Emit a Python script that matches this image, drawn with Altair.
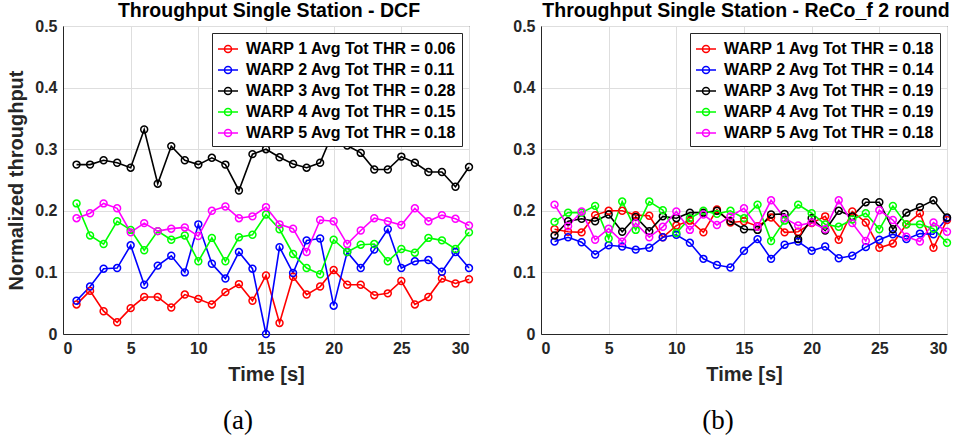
import altair as alt
import pandas as pd

time_s = list(range(1, 31))

# ---- (a) DCF ----
dcf_warp1 = [0.048, 0.070, 0.037, 0.019, 0.042, 0.060, 0.060, 0.043, 0.064, 0.057,
             0.048, 0.068, 0.081, 0.054, 0.095, 0.018, 0.093, 0.064, 0.077, 0.104,
             0.080, 0.080, 0.063, 0.066, 0.086, 0.048, 0.060, 0.090, 0.082, 0.089]
dcf_warp2 = [0.054, 0.077, 0.106, 0.107, 0.144, 0.080, 0.111, 0.127, 0.100, 0.178,
             0.114, 0.090, 0.133, 0.106, 0.000, 0.141, 0.099, 0.152, 0.155, 0.046,
             0.133, 0.107, 0.137, 0.170, 0.107, 0.118, 0.120, 0.101, 0.133, 0.107]
dcf_warp3 = [0.275, 0.275, 0.282, 0.278, 0.270, 0.332, 0.244, 0.305, 0.282, 0.275,
             0.286, 0.275, 0.233, 0.292, 0.300, 0.287, 0.276, 0.270, 0.278, 0.330,
             0.306, 0.294, 0.267, 0.267, 0.288, 0.278, 0.263, 0.263, 0.239, 0.271]
dcf_warp4 = [0.212, 0.160, 0.146, 0.183, 0.169, 0.136, 0.167, 0.153, 0.160, 0.118,
             0.156, 0.118, 0.157, 0.161, 0.194, 0.170, 0.130, 0.107, 0.097, 0.153,
             0.133, 0.145, 0.146, 0.118, 0.138, 0.132, 0.156, 0.152, 0.138, 0.165]
dcf_warp5 = [0.188, 0.196, 0.212, 0.204, 0.165, 0.180, 0.167, 0.171, 0.173, 0.159,
             0.200, 0.207, 0.188, 0.191, 0.206, 0.178, 0.171, 0.133, 0.185, 0.183,
             0.146, 0.168, 0.188, 0.183, 0.177, 0.204, 0.183, 0.193, 0.187, 0.176]
dcf_labels = ["WARP 1 Avg Tot THR = 0.06", "WARP 2 Avg Tot THR = 0.11",
              "WARP 3 Avg Tot THR = 0.28", "WARP 4 Avg Tot THR = 0.15",
              "WARP 5 Avg Tot THR = 0.18"]

# ---- (b) ReCo_f 2 round ----
reco_warp1 = [0.170, 0.166, 0.165, 0.193, 0.200, 0.200, 0.193, 0.192, 0.157, 0.176,
              0.184, 0.165, 0.202, 0.181, 0.183, 0.175, 0.189, 0.165, 0.166, 0.180,
              0.191, 0.153, 0.199, 0.181, 0.140, 0.147, 0.178, 0.196, 0.140, 0.185]
reco_warp2 = [0.150, 0.157, 0.149, 0.129, 0.144, 0.142, 0.137, 0.140, 0.157, 0.161,
              0.148, 0.122, 0.112, 0.108, 0.135, 0.154, 0.122, 0.145, 0.150, 0.135,
              0.142, 0.123, 0.127, 0.141, 0.153, 0.162, 0.154, 0.163, 0.162, 0.188]
reco_warp3 = [0.160, 0.183, 0.187, 0.183, 0.194, 0.166, 0.190, 0.167, 0.191, 0.188,
              0.197, 0.197, 0.200, 0.183, 0.170, 0.169, 0.194, 0.195, 0.154, 0.188,
              0.168, 0.200, 0.191, 0.214, 0.214, 0.170, 0.197, 0.206, 0.217, 0.189]
reco_warp4 = [0.182, 0.197, 0.197, 0.208, 0.155, 0.215, 0.169, 0.215, 0.201, 0.164,
              0.188, 0.200, 0.195, 0.200, 0.188, 0.210, 0.151, 0.184, 0.210, 0.196,
              0.178, 0.174, 0.186, 0.196, 0.170, 0.208, 0.178, 0.178, 0.171, 0.148]
reco_warp5 = [0.210, 0.175, 0.199, 0.153, 0.171, 0.150, 0.180, 0.157, 0.174, 0.199,
              0.169, 0.194, 0.177, 0.191, 0.204, 0.174, 0.217, 0.188, 0.176, 0.181,
              0.170, 0.217, 0.180, 0.151, 0.201, 0.185, 0.158, 0.150, 0.181, 0.166]
reco_labels = ["WARP 1 Avg Tot THR = 0.18", "WARP 2 Avg Tot THR = 0.14",
               "WARP 3 Avg Tot THR = 0.19", "WARP 4 Avg Tot THR = 0.19",
               "WARP 5 Avg Tot THR = 0.18"]

series_colors = ["#ff0000", "#0000ff", "#000000", "#00ff00", "#ff00ff"]
x_ticks = [0, 5, 10, 15, 20, 25, 30]
y_ticks = [0, 0.1, 0.2, 0.3, 0.4, 0.5]
captions = ["(a)", "(b)"]

FONT = "Liberation Sans"
LEG_PATH = "M-1,0L1,0M0.35,0A0.35,0.35 0 1,1 -0.35,0A0.35,0.35 0 1,1 0.35,0"


def make_df(series, labels):
    rows = []
    for s, lab in zip(series, labels):
        for t, v in zip(time_s, s):
            rows.append({"t": t, "v": v, "series": lab})
    return pd.DataFrame(rows)


def panel(df, labels, title, title_dx, y_title, caption, cap_x):
    color = alt.Color(
        "series:N",
        scale=alt.Scale(domain=labels, range=series_colors),
        legend=alt.Legend(
            title=None, orient="top-right", offset=7,
            fillColor="white", strokeColor="#262626", padding=5,
            labelFont=FONT, labelFontSize=16, labelFontWeight="bold",
            labelColor="black", labelOffset=7, labelLimit=400,
            symbolType=LEG_PATH, symbolSize=400, symbolStrokeWidth=1.5,
            rowPadding=2, cornerRadius=0,
        ),
    )
    x = alt.X(
        "t:Q",
        scale=alt.Scale(domain=[0, 30], nice=False),
        axis=alt.Axis(values=x_ticks, title="Time [s]", format="d"),
    )
    y = alt.Y("v:Q", scale=alt.Scale(domain=[0, 0.5], nice=False),
              axis=alt.Axis(values=y_ticks, format=".1~f",
                            title=y_title if y_title else ""))
    base = alt.Chart(df).encode(x=x, y=y, color=color, detail="series:N")
    lines = base.mark_line(strokeWidth=1.6)
    pts = base.mark_point(size=48, filled=False, strokeWidth=1.5, opacity=1)
    cap = alt.Chart(pd.DataFrame({"c": [caption]})).mark_text(
        font="Liberation Serif", fontSize=27, color="black", baseline="middle"
    ).encode(text="c:N", x=alt.value(cap_x), y=alt.value(395))
    return alt.layer(lines, pts, cap).properties(
        width=406, height=308,
        title=alt.TitleParams(title, font=FONT, fontSize=19.5, fontWeight="bold",
                              color="black", offset=-3, dx=title_dx),
    )


left = panel(make_df([dcf_warp1, dcf_warp2, dcf_warp3, dcf_warp4, dcf_warp5], dcf_labels),
             dcf_labels, "Throughput Single Station - DCF", 3, "Normalized throughput",
             captions[0], 175)
right = panel(make_df([reco_warp1, reco_warp2, reco_warp3, reco_warp4, reco_warp5], reco_labels),
              reco_labels, "Throughput Single Station - ReCo_f 2 round", 2, None,
              captions[1], 177)

chart = (
    alt.hconcat(left, right, spacing=36)
    .resolve_scale(color="independent")
    .properties(padding={"left": 6, "top": 0, "right": 4, "bottom": 0})
    .configure_view(stroke="#262626", strokeWidth=1)
    .configure_axis(
        labelFont=FONT, labelFontSize=16, labelFontWeight="bold", labelColor="#262626",
        titleFont=FONT, titleFontSize=20, titleFontWeight="bold", titleColor="#262626",
        gridColor="#dedede", gridWidth=1, domainColor="#262626", ticks=False,
        labelPadding=6, titlePadding=8,
    )
    .configure_axisX(titlePadding=8, labelPadding=6)
)

chart.save("out.html", embed_options={"renderer": "svg", "actions": False})
